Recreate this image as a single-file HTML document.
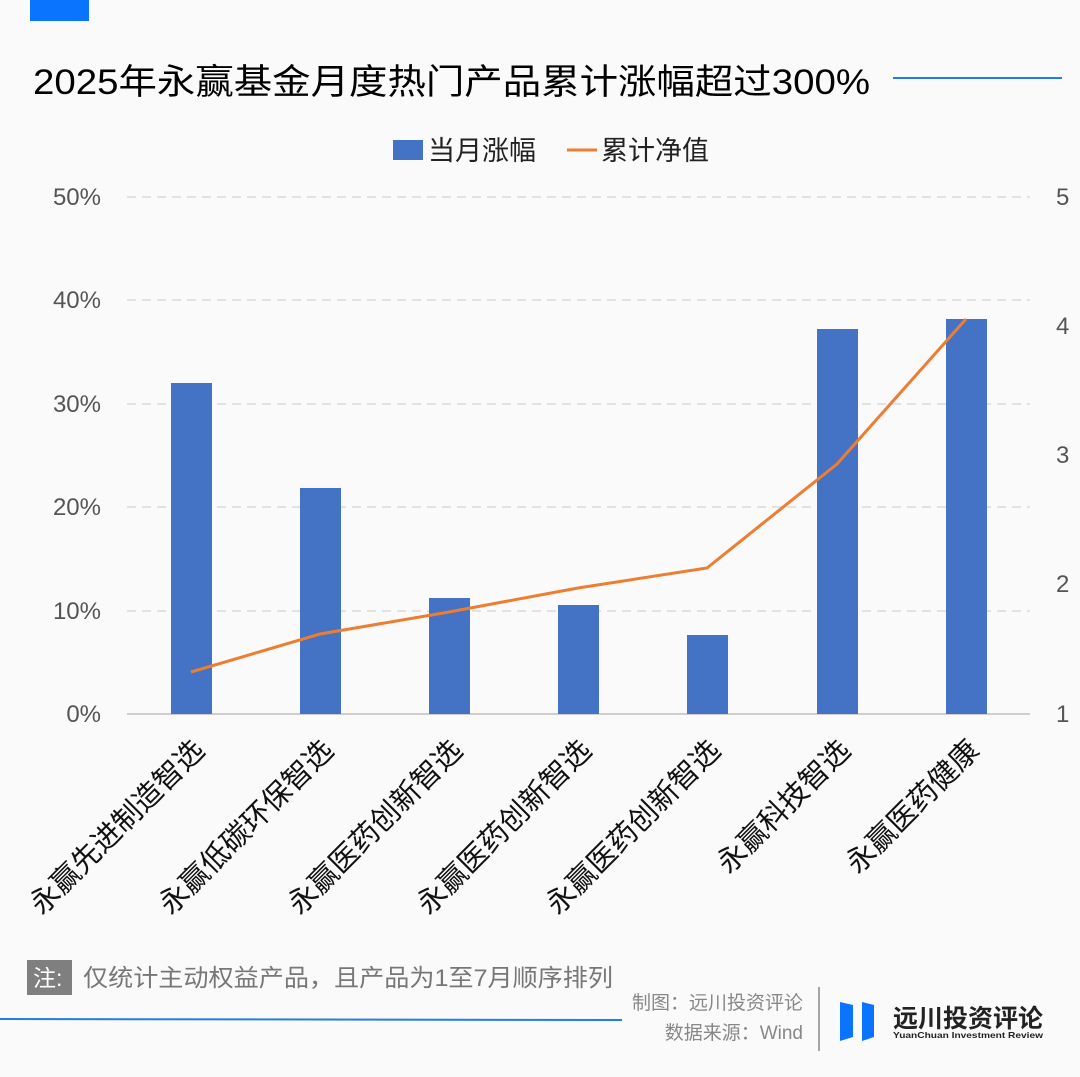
<!DOCTYPE html>
<html><head><meta charset="utf-8"><style>
html,body{margin:0;padding:0;background:#fafafa}
svg{display:block;font-family:"Liberation Sans","Noto Sans CJK SC",sans-serif}
</style></head><body>
<svg width="1080" height="1077" viewBox="0 0 1080 1077">
<rect width="1080" height="1077" fill="#fafafa"/>
<rect x="30" y="0" width="59" height="21" fill="#0a74ff"/>
<text x="33" y="94" font-size="35" fill="#000" textLength="837" lengthAdjust="spacingAndGlyphs">2025年永赢基金月度热门产品累计涨幅超过300%</text>
<line x1="893" y1="78" x2="1062" y2="78" stroke="#1f7fe6" stroke-width="2"/>
<rect x="393" y="140" width="30" height="20" fill="#4472c4"/>
<text x="428" y="160" font-size="27" fill="#222">当月涨幅</text>
<line x1="567" y1="150" x2="597" y2="150" stroke="#ed7d31" stroke-width="3"/>
<text x="601" y="160" font-size="27" fill="#222">累计净值</text>
<g stroke="#d9d9d9" stroke-width="1.5" stroke-dasharray="9,6">
<line x1="127" y1="197" x2="1030" y2="197"/><line x1="127" y1="300" x2="1030" y2="300"/>
<line x1="127" y1="404" x2="1030" y2="404"/><line x1="127" y1="507" x2="1030" y2="507"/>
<line x1="127" y1="611" x2="1030" y2="611"/></g>
<line x1="127" y1="714" x2="1030" y2="714" stroke="#bfbfbf" stroke-width="1.5"/>
<g font-size="24" fill="#555" text-anchor="end">
<text x="101" y="205">50%</text><text x="101" y="308">40%</text><text x="101" y="412">30%</text>
<text x="101" y="515">20%</text><text x="101" y="619">10%</text><text x="101" y="722">0%</text></g>
<g font-size="24" fill="#555">
<text x="1056" y="205">5</text><text x="1056" y="334">4</text><text x="1056" y="463">3</text>
<text x="1056" y="592">2</text><text x="1056" y="722">1</text></g>
<g fill="#4472c4">
<rect x="171" y="383" width="41" height="331"/><rect x="300" y="488" width="41" height="226"/>
<rect x="429" y="598" width="41" height="116"/><rect x="558" y="605" width="41" height="109"/>
<rect x="687" y="635" width="41" height="79"/><rect x="817" y="329" width="41" height="385"/>
<rect x="946" y="319" width="41" height="395"/></g>
<polyline points="191,672 320,634 449,612 578,588 707,568 837,464 966,319" fill="none" stroke="#ed7d31" stroke-width="3"/>
<g font-size="29" fill="#111" text-anchor="end">
<text transform="translate(206,752) rotate(-45)">永赢先进制造智选</text>
<text transform="translate(335,752) rotate(-45)">永赢低碳环保智选</text>
<text transform="translate(464,752) rotate(-45)">永赢医药创新智选</text>
<text transform="translate(593,752) rotate(-45)">永赢医药创新智选</text>
<text transform="translate(722,752) rotate(-45)">永赢医药创新智选</text>
<text transform="translate(852,752) rotate(-45)">永赢科技智选</text>
<text transform="translate(981,752) rotate(-45)">永赢医药健康</text></g>
<rect x="27" y="960" width="45" height="35" fill="#7f7f7f"/>
<text x="33" y="986" font-size="23" fill="#fff">注:</text>
<text x="83" y="986" font-size="24" fill="#777" textLength="530" lengthAdjust="spacingAndGlyphs">仅统计主动权益产品，且产品为1至7月顺序排列</text>
<line x1="0" y1="1019" x2="622" y2="1020" stroke="#1f7fe6" stroke-width="2"/>
<g font-size="19" fill="#888" text-anchor="end">
<text x="803" y="1009">制图：远川投资评论</text><text x="803" y="1039">数据来源：Wind</text></g>
<line x1="819" y1="987" x2="819" y2="1051" stroke="#888" stroke-width="1.5"/>
<polygon points="840,1002 853,1005 853,1037 840,1041" fill="#0a74ff"/>
<polygon points="862,1002 874,1005 874,1037 862,1041" fill="#0a74ff"/>
<text x="893" y="1027" font-size="25" font-weight="bold" fill="#222">远川投资评论</text>
<text x="893" y="1038" font-size="8.5" font-weight="bold" fill="#222" textLength="150" lengthAdjust="spacingAndGlyphs">YuanChuan Investment Review</text>
</svg>
</body></html>
